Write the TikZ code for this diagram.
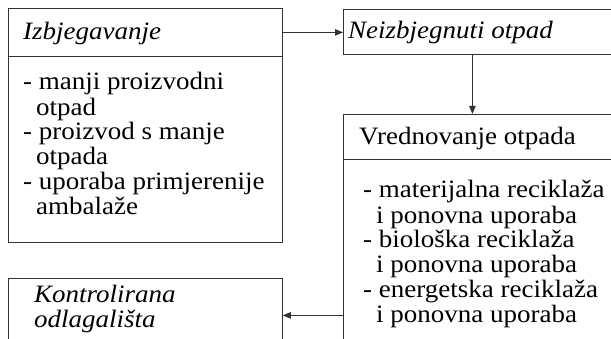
\documentclass[tikz,border=0pt]{standalone}
\usepackage{fontspec}
\setmainfont[FakeStretch=1.08]{Liberation Serif}
\usetikzlibrary{arrows.meta}

\begin{document}
\begin{tikzpicture}[
	x = 1pt, y = 1pt,
	box/.style = {draw=black!80, line width=0.8pt, rectangle, inner sep=0pt, anchor=north west},
	boxtext/.style = {anchor=base west, inner sep=0pt, font=\fontsize{25}{25}\selectfont},
	listtext/.style = {boxtext, align=left},
	link/.style = {draw=black!80, line width=0.8pt, -{Triangle[length=8pt,width=6.5pt]}}
	]
	\useasboundingbox (0,0) rectangle (611,-339);
	\clip (0,0) rectangle (611,-339);
	% frames
	\node [box, minimum width=274, minimum height=48] (izbH) at (8,-8) {};
	\node [box, minimum width=274, minimum height=186] (izbB) at (8,-56) {};
	\node [box, minimum width=297, minimum height=45] (neiz) at (343,-9) {};
	\node [box, minimum width=297, minimum height=45] (vredH) at (343,-114) {};
	\node [box, minimum width=297, minimum height=230] (vredB) at (343,-159) {};
	\node [box, minimum width=274, minimum height=74] (kont) at (8,-278) {};
	% texts (lists are placed by the baseline of their last line)
	\node [boxtext] (izbT) at (23,-40) {\itshape Izbjegavanje};
	\node [listtext] (izbL) at (23,-215) {- manji proizvodni\\
		\hspace*{13pt}otpad\\
		- proizvod s manje\\
		\hspace*{13pt}otpada\\
		- uporaba primjerenije\\
		\hspace*{13pt}ambalaže};
	\node [boxtext] (neizT) at (348,-39) {\itshape Neizbjegnuti otpad};
	\node [boxtext] (vredT) at (359,-145) {Vrednovanje otpada};
	\node [listtext] (vredL) at (363,-323) {- materijalna reciklaža\\
		\hspace*{13pt}i ponovna uporaba\\
		- biološka reciklaža\\
		\hspace*{13pt}i ponovna uporaba\\
		- energetska reciklaža\\
		\hspace*{13pt}i ponovna uporaba};
	\node [listtext] (kontT) at (34,-328) {\itshape Kontrolirana\\
		\itshape odlagališta};
	% arrows
	\draw [link] (izbH.east) -- (izbH.east -| neiz.west);
	\draw [link] ([xshift=-19.5pt]neiz.south) -- ([xshift=-19.5pt]neiz.south |- vredH.north);
	\draw [link] (kont.east -| vredB.west) -- (kont.east);
\end{tikzpicture}
\end{document}
